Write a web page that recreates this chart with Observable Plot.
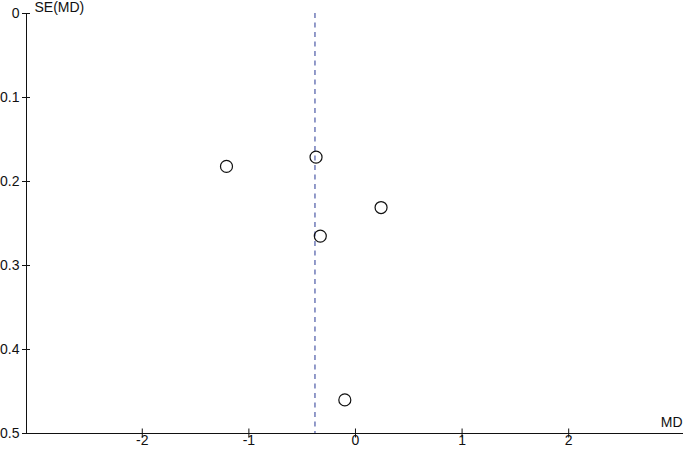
<!DOCTYPE html>
<html>
<head>
<meta charset="utf-8">
<script src="https://cdn.jsdelivr.net/npm/d3@7"></script>
<script src="https://cdn.jsdelivr.net/npm/@observablehq/plot@0.6"></script>
<style>
  html, body { margin: 0; padding: 0; background: #fff; }
  #chart svg { display: block; }
</style>
</head>
<body>
<div id="chart"></div>
<script>
// Study effect sizes (mean difference) and their standard errors
const md = [-1.21, -0.37, 0.24, -0.33, -0.10];
const seMd = [0.182, 0.171, 0.231, 0.265, 0.460];
// Pooled estimate (dashed reference line)
const pooled = [-0.38];
// Tick values
const xTicks = [-2, -1, 0, 1, 2];
const yTicks = [0, 0.1, 0.2, 0.3, 0.4, 0.5];
const xDomain = [-3.086, 3.077];
const yDomain = [0, 0.5];

const studies = md.map((v, i) => ({md: v, se: seMd[i]}));

const fontTicks = 14;
const chart = Plot.plot({
  width: 683,
  height: 451,
  marginLeft: 26,
  marginRight: 0,
  marginTop: 13,
  marginBottom: 18,
  style: {fontFamily: "Liberation Sans, Arial, sans-serif", fontSize: fontTicks + "px", color: "#111", background: "#fff"},
  x: {domain: xDomain},
  y: {domain: yDomain, reverse: true},
  marks: [
    Plot.frame({anchor: "left", stroke: "#111"}),
    Plot.frame({anchor: "bottom", stroke: "#111"}),
    // crossing tick marks (no text)
    Plot.axisY({ticks: yTicks, anchor: "left", tickSize: 8, dx: 4, stroke: "#111", tickFormat: () => "", label: null}),
    // tick labels (no tick marks)
    Plot.axisY({ticks: yTicks, anchor: "left", tickSize: 0, tickPadding: 7, tickFormat: d => String(d), fill: "#111", fontSize: fontTicks, label: null}),
    Plot.axisX({ticks: xTicks, anchor: "bottom", tickSize: 9, dy: -4.5, stroke: "#111", tickFormat: () => "", label: null}),
    Plot.axisX({ticks: xTicks, anchor: "bottom", tickSize: 0, tickPadding: 2, tickFormat: d => String(d), fill: "#111", fontSize: fontTicks, label: null}),
    Plot.ruleX(pooled, {x: d => d, stroke: "#4a58a6", strokeDasharray: "5,4.5", strokeWidth: 1.2}),
    Plot.dot(studies, {x: "md", y: "se", r: 6, stroke: "#111", fill: "none", strokeWidth: 1.2}),
    Plot.text(["SE(MD)"], {frameAnchor: "top-left", textAnchor: "start", lineAnchor: "middle", dx: 8, dy: -6, fontSize: 14, fill: "#111"}),
    Plot.text(["MD"], {frameAnchor: "bottom-right", textAnchor: "end", lineAnchor: "middle", dx: -1, dy: -11, fontSize: 14, fill: "#111"})
  ]
});
document.getElementById("chart").appendChild(chart);
</script>
</body>
</html>
